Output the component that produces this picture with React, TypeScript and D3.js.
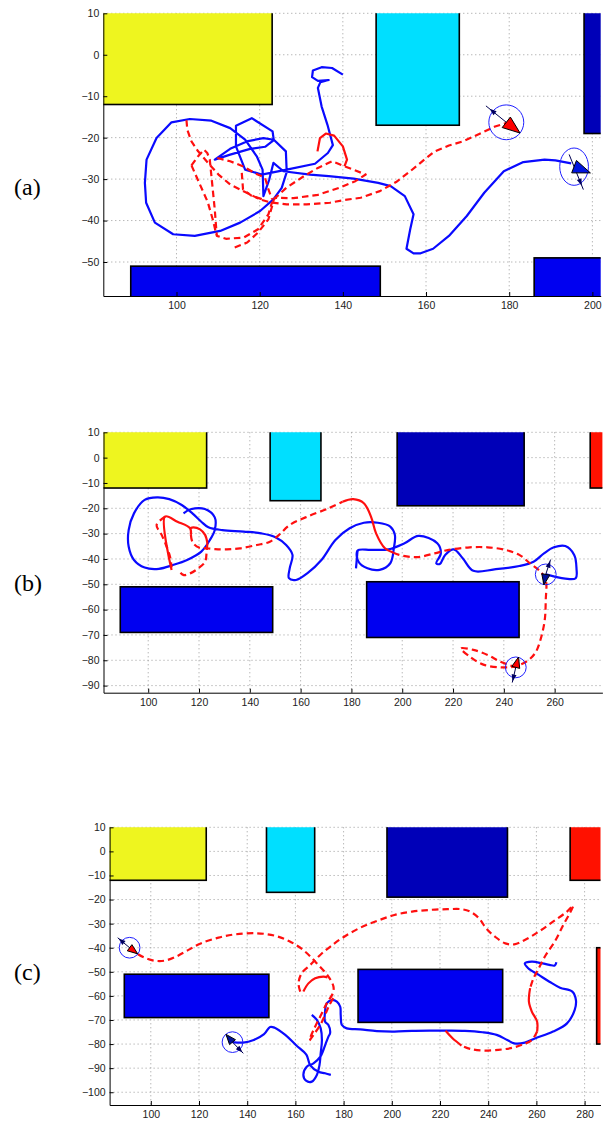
import React, { useEffect, useRef } from "react";
import * as d3 from "d3";

type P = [number, number];

// obstacles in map units: [xMin, xMax, yMin, yMax]
const obstacleKinds = ["yellow", "cyan", "navy", "red", "red", "blue", "blue"];
const obstacleBoxes: [number, number, number, number][] = [
  [70, 123, -12, 20],
  [148, 168, -17, 20],
  [198, 248, -19, 20],
  [274, 300, -12, 20],
  [285, 300, -80, -40],
  [89, 149, -69, -51],
  [186, 246, -71, -49],
];

// ---- panel (a)
const xTicksA = [100, 120, 140, 160, 180, 200];
const yTicksA = [10, 0, -10, -20, -30, -40, -50];
const blueA: P[] = [
  [140.0, -4.8], [137.4, -3.2], [134.9, -3.0], [132.8, -3.8], [132.6, -5.4], [134.0, -6.3], [136.6, -6.1],
  [134.6, -6.6], [134.0, -8.0], [134.9, -12.5], [136.3, -16.9], [137.6, -21.8], [136.4, -23.7], [133.3, -26.3],
  [126.5, -27.7], [120.5, -28.9], [116.5, -27.7], [114.3, -22.1], [114.3, -17.1], [118.1, -15.3], [123.1, -18.5],
  [123.4, -20.6], [121.3, -22.2], [117.7, -22.7], [112.9, -24.1], [109.2, -25.3], [112.9, -22.7], [116.9, -20.9],
  [120.9, -20.1], [123.4, -20.5], [126.3, -23.3], [126.5, -28.3], [125.3, -32.1], [123.3, -34.9], [120.1, -37.7],
  [115.3, -40.5], [110.5, -42.5], [104.4, -43.7], [99.2, -43.3], [94.8, -40.5], [92.7, -35.7], [92.4, -30.9],
  [92.8, -25.3], [95.2, -20.1], [98.8, -16.3], [103.2, -15.5], [108.4, -15.9], [112.9, -17.7], [116.5, -20.5],
  [119.3, -24.5], [120.7, -27.7], [120.9, -34.1], [122.3, -30.1], [123.3, -26.1], [125.7, -28.1], [132.1, -28.9],
  [136.6, -29.3], [142.6, -29.9], [148.5, -30.9], [151.5, -31.7], [154.9, -34.1], [157.0, -38.5], [156.2, -42.1],
  [155.3, -46.8], [157.0, -47.9], [158.7, -47.9], [161.7, -46.8], [165.5, -43.7], [169.8, -38.9], [174.0, -33.3],
  [178.7, -28.1], [183.4, -25.9], [188.5, -25.3], [191.1, -25.5], [194.9, -26.2],
];
const redAMain: P[] = [
  [102.4, -15.8], [102.6, -18.1], [103.6, -20.9], [105.2, -23.3], [107.6, -26.1], [110.1, -28.9], [112.9, -31.3],
  [116.5, -33.1], [120.1, -34.9], [122.5, -35.6], [126.5, -36.1], [131.3, -36.1], [136.9, -35.7], [140.0, -35.1],
  [144.3, -34.5], [148.9, -32.9], [152.8, -30.7], [156.2, -28.1], [159.6, -25.3], [162.1, -23.3], [165.5, -21.9],
  [168.9, -20.9], [173.2, -18.9], [176.6, -17.3], [179.3, -16.5],
];
const redALoop: P[] = [
  [123.4, -34.9], [126.4, -32.1], [130.6, -29.3], [134.0, -27.3], [137.4, -25.7], [140.4, -26.9], [145.5, -28.9],
  [143.0, -30.5], [139.1, -32.1], [134.0, -33.8], [128.1, -34.6], [123.4, -34.5],
];
const redASolid: P[] = [
  [133.9, -23.3], [134.5, -20.1], [135.9, -19.0], [137.9, -19.5], [140.0, -22.1], [141.0, -25.3], [140.4, -26.9],
];
const redALeft: P[] = [
  [103.6, -26.7], [105.2, -24.5], [106.6, -22.9], [107.4, -23.7], [108.0, -25.3], [108.4, -29.3], [108.8, -33.3],
  [109.2, -37.3], [109.5, -41.3], [109.7, -43.7], [111.9, -44.4], [116.2, -44.1], [119.6, -42.1], [122.1, -38.5],
  [123.0, -35.5],
];
const redALeft2: P[] = [[103.6, -26.7], [105.5, -31.0], [107.5, -35.5], [108.8, -40.0], [109.6, -43.5]];
const redALow: P[] = [[114.0, -46.5], [117.0, -45.3], [119.6, -42.9], [122.1, -39.7], [123.0, -36.5], [123.4, -34.9]];
const redAMid: P[] = [
  [109.8, -24.9], [112.9, -25.7], [116.2, -27.0], [118.7, -28.5], [121.3, -29.7], [122.1, -32.5], [123.0, -34.9],
];
const redAMid2: P[] = [[115.7, -28.5], [116.0, -32.5], [118.0, -34.0], [121.0, -35.0]];

// ---- panel (b)
const xTicksB = [100, 120, 140, 160, 180, 200, 220, 240, 260];
const yTicksB = [10, 0, -10, -20, -30, -40, -50, -60, -70, -80, -90];
const blueB: P[] = [
  [113.9, -22.0], [116.7, -20.4], [122.3, -20.3], [126.2, -23.6], [126.2, -28.6], [124.3, -32.5], [120.9, -37.1],
  [115.3, -40.4], [109.7, -42.4], [104.2, -43.9], [98.6, -43.4], [94.4, -40.4], [92.3, -35.1], [92.3, -28.6],
  [94.4, -22.0], [98.6, -16.7], [103.5, -15.7], [108.3, -16.4], [113.2, -18.7], [117.4, -22.0], [120.9, -25.3],
  [123.7, -27.5], [129.2, -28.6], [137.6, -29.2], [144.5, -29.9], [150.1, -31.4], [154.3, -34.5], [156.8, -38.4],
  [155.7, -43.7], [155.4, -47.6], [158.2, -48.3], [162.6, -45.7], [168.2, -40.4], [173.7, -32.5], [179.3, -27.9],
  [184.9, -25.7], [190.4, -25.7], [195.3, -27.2], [197.1, -30.5], [196.7, -35.8], [195.3, -41.7], [191.1, -44.3],
  [186.3, -43.7], [182.8, -41.1], [182.4, -36.7], [187.7, -36.4], [194.6, -36.2], [200.9, -33.8], [206.4, -30.9],
  [213.8, -33.8], [215.2, -37.8], [213.4, -41.7], [214.8, -42.0], [216.9, -38.4], [220.3, -36.2], [223.8, -39.7],
  [228.0, -44.7], [236.3, -44.1], [246.1, -42.8], [251.7, -41.1], [255.8, -37.8], [259.7, -35.4], [264.2, -34.9],
  [267.7, -38.4], [268.6, -43.7], [268.3, -47.6], [264.2, -47.8], [260.0, -47.0], [256.5, -46.1],
];
const blueBTail: P[] = [[182.4, -36.7], [181.8, -43.7]];
const redBSolidL1: P[] = [[109.2, -44.4], [106.6, -23.3], [111.5, -25.3], [116.5, -27.9], [116.8, -30.5]];
const redBSolidL2: P[] = [[116.5, -27.9], [117.8, -27.5], [120.4, -28.3], [122.4, -30.5], [123.3, -33.8]];
const redBDashL: P[] = [[106.6, -23.3], [103.3, -26.6], [105.3, -30.5], [107.0, -34.5], [108.6, -39.1], [109.2, -43.3]];
const redBHeart: P[] = [
  [123.3, -33.8], [123.0, -37.1], [122.4, -41.1], [119.7, -43.7], [116.5, -45.7], [113.8, -46.3], [111.9, -44.4],
];
const redBMain: P[] = [
  [116.8, -30.5], [117.5, -33.5], [120.0, -35.5], [123.0, -35.8], [126.3, -36.1], [130.9, -36.2], [136.1, -35.8],
  [142.7, -34.5], [147.9, -33.2], [151.5, -30.5], [155.7, -26.6], [162.6, -23.3], [171.0, -20.0], [176.5, -17.4],
];
const redBSolidR: P[] = [
  [176.5, -17.4], [180.7, -16.4], [184.9, -18.0], [187.7, -23.3], [189.7, -29.9], [193.2, -35.8], [196.5, -37.5],
];
const redBTail: P[] = [
  [196.5, -37.5], [198.8, -38.4], [205.7, -39.3], [212.7, -37.8], [218.3, -36.4], [226.6, -35.4], [233.6, -35.4],
  [240.5, -36.4], [246.1, -38.4], [250.3, -41.7], [254.4, -45.0], [256.5, -48.3], [256.5, -56.2], [256.1, -64.1],
  [254.4, -72.0], [252.3, -77.2], [248.9, -80.5], [244.0, -82.5], [239.1, -82.8], [232.2, -81.8], [226.6, -78.6],
  [223.1, -75.3], [228.0, -75.9], [233.6, -77.9], [238.5, -80.5], [244.7, -82.8],
];

// ---- panel (c)
const xTicksC = [100, 120, 140, 160, 180, 200, 220, 240, 260, 280];
const yTicksC = [10, 0, -10, -20, -30, -40, -50, -60, -70, -80, -90, -100];
const blueC1: P[] = [
  [174.7, -92.8], [172.3, -92.1], [169.6, -91.5], [166.1, -88.7], [164.6, -84.5], [160.2, -80.4], [155.8, -76.2],
  [151.4, -73.2], [149.5, -72.9], [147.0, -75.9], [142.7, -78.3], [138.3, -79.4], [133.9, -79.2],
];
const blueC2: P[] = [
  [166.8, -67.9], [168.9, -70.0], [170.5, -73.5], [171.0, -78.3], [170.5, -83.8], [170.0, -88.7], [168.9, -92.8],
  [166.8, -95.6], [164.4, -95.2], [163.3, -92.8], [164.7, -89.4], [167.5, -88.0], [170.5, -85.0], [172.5, -80.0],
  [173.7, -76.9], [174.4, -75.5], [173.7, -72.1], [172.3, -70.7], [172.3, -66.6], [173.0, -63.1], [175.1, -61.7],
  [177.2, -62.4], [178.6, -64.5], [178.8, -67.9], [179.3, -72.1], [181.3, -73.5], [186.9, -73.9], [193.8, -74.6],
  [201.1, -74.8], [208.4, -74.5], [215.7, -74.4], [223.0, -74.4], [230.3, -74.5], [237.6, -75.1], [243.5, -76.2],
  [247.9, -78.3], [250.8, -79.7], [255.2, -79.4], [259.6, -77.6], [266.9, -74.8], [272.7, -71.4], [275.9, -65.8],
  [276.4, -61.7], [274.9, -58.2], [269.8, -56.6], [265.4, -54.1], [261.0, -51.3], [256.6, -48.5], [255.2, -46.5],
  [258.1, -45.8], [262.5, -46.5], [265.4, -47.1], [267.6, -47.4], [268.3, -46.0],
];
const redCMain: P[] = [
  [91.2, -40.0], [94.7, -42.7], [98.8, -44.7], [102.5, -45.5], [106.1, -45.3], [110.5, -43.7], [115.6, -40.9],
  [120.7, -38.2], [128.1, -35.8], [135.4, -34.4], [144.1, -34.0], [151.4, -35.0], [157.3, -37.2], [163.3, -41.0],
  [168.9, -46.5], [173.7, -52.0], [175.8, -56.2], [175.5, -59.0], [173.0, -63.1], [170.3, -68.6], [167.5, -74.2],
  [165.8, -78.5], [167.5, -76.2], [170.3, -72.1], [172.3, -67.9], [174.1, -63.8], [176.0, -60.5],
];
const redCHook: P[] = [[173.3, -52.3], [171.6, -52.0], [168.2, -52.7], [165.4, -54.8], [163.3, -58.2]];
const redCBig: P[] = [
  [162.0, -58.2], [161.3, -54.8], [162.6, -50.6], [166.1, -47.2], [170.3, -43.0], [174.4, -39.6], [179.2, -36.1],
  [186.5, -31.9], [193.8, -28.9], [201.1, -26.4], [208.4, -25.0], [215.7, -24.3], [223.0, -24.0], [228.9, -24.0],
  [232.5, -25.0], [236.2, -27.8], [239.1, -31.9], [242.8, -35.4], [247.1, -38.2], [250.8, -38.6], [255.2, -36.8],
  [261.0, -33.3], [266.9, -29.2], [272.7, -25.0], [275.3, -22.5], [274.2, -25.0], [271.2, -30.5], [267.6, -37.5],
  [263.9, -43.0], [261.0, -48.5], [258.8, -52.7], [257.4, -56.8],
];
const redCSolid2: P[] = [[257.4, -56.8], [256.9, -62.4], [258.1, -66.5], [260.3, -70.7], [260.3, -74.8]];
const redCBottom: P[] = [
  [260.3, -74.8], [258.1, -78.3], [253.7, -80.4], [249.3, -81.7], [244.2, -82.4], [237.6, -82.7], [232.5, -82.0],
  [228.9, -80.6],
];
const redCSolid3: P[] = [[228.9, -80.6], [225.2, -77.6], [222.3, -74.5]];

// robot poses: [x, y, heading deg, sensor direction deg, radius x, radius y]
const posesA: number[][] = [
  [179.3, -16.3, -38, 141, 4.2, 4.2],
  [195.6, -27.0, -21, -68, 3.45, 4.5],
];
const posesB: number[][] = [
  [256.5, -46.1, -100, 72, 4.1, 4.1],
  [244.7, -82.8, 75, -103, 4.1, 4.1],
];
const posesC: number[][] = [
  [91.2, -40.0, -37, 140, 4.3, 4.3],
  [133.9, -79.2, 130, -46, 4.3, 4.3],
];

const fills: Record<string, string> = {
  yellow: "#eef51f",
  cyan: "#00dfff",
  navy: "#0000b8",
  red: "#ff1100",
  blue: "#0000f0",
};
const BLUE = "#0a0aff";
const RED = "#ff0f0f";

type Track = { pts: P[]; color: string; dashed: boolean };
type Panel = {
  label: string;
  labelY: number;
  box: { left: number; right: number; top: number; bottom: number };
  xDomain: [number, number];
  yDomain: [number, number];
  xTicks: number[];
  yTicks: number[];
  smooth: boolean;
  tracks: Track[];
  poses: number[][];
  poseColors: string[];
};

const panels: Panel[] = [
  {
    label: "(a)",
    labelY: 195,
    box: { left: 103.3, right: 600.7, top: 13.3, bottom: 296 },
    xDomain: [82.4, 202],
    yDomain: [-58.2, 10],
    xTicks: xTicksA,
    yTicks: yTicksA,
    smooth: false,
    tracks: [
      { pts: blueA, color: BLUE, dashed: false },
      { pts: redAMain, color: RED, dashed: true },
      { pts: redALoop, color: RED, dashed: true },
      { pts: redASolid, color: RED, dashed: false },
      { pts: redALeft, color: RED, dashed: true },
      { pts: redALeft2, color: RED, dashed: true },
      { pts: redALow, color: RED, dashed: true },
      { pts: redAMid, color: RED, dashed: true },
      { pts: redAMid2, color: RED, dashed: true },
    ],
    poses: posesA,
    poseColors: ["#ff0000", "#0014e0"],
  },
  {
    label: "(b)",
    labelY: 591,
    box: { left: 103.5, right: 602.4, top: 432.3, bottom: 692.7 },
    xDomain: [82.4, 278.8],
    yDomain: [-92.8, 10],
    xTicks: xTicksB,
    yTicks: yTicksB,
    smooth: true,
    tracks: [
      { pts: blueB, color: BLUE, dashed: false },
      { pts: blueBTail, color: BLUE, dashed: false },
      { pts: redBSolidL1, color: RED, dashed: false },
      { pts: redBSolidL2, color: RED, dashed: false },
      { pts: redBDashL, color: RED, dashed: true },
      { pts: redBHeart, color: RED, dashed: true },
      { pts: redBMain, color: RED, dashed: true },
      { pts: redBSolidR, color: RED, dashed: false },
      { pts: redBTail, color: RED, dashed: true },
    ],
    poses: posesB,
    poseColors: ["#00109a", "#ff0000"],
  },
  {
    label: "(c)",
    labelY: 980,
    box: { left: 109.6, right: 600.5, top: 827.3, bottom: 1105 },
    xDomain: [82.9, 286.6],
    yDomain: [-105.3, 10],
    xTicks: xTicksC,
    yTicks: yTicksC,
    smooth: true,
    tracks: [
      { pts: blueC1, color: BLUE, dashed: false },
      { pts: blueC2, color: BLUE, dashed: false },
      { pts: redCMain, color: RED, dashed: true },
      { pts: redCHook, color: RED, dashed: false },
      { pts: redCBig, color: RED, dashed: true },
      { pts: redCSolid2, color: RED, dashed: false },
      { pts: redCBottom, color: RED, dashed: true },
      { pts: redCSolid3, color: RED, dashed: false },
    ],
    poses: posesC,
    poseColors: ["#ff0000", "#00109a"],
  },
];

const AXIS_FONT = "'Liberation Sans', Arial, Helvetica, sans-serif";

export default function App() {
  const ref = useRef<SVGSVGElement>(null);

  useEffect(() => {
    const svg = d3.select(ref.current);
    svg.selectAll("*").remove();
    svg.append("rect").attr("width", 613).attr("height", 1124).attr("fill", "#fff");

    panels.forEach((p, i) => {
      const { box } = p;
      const x = d3.scaleLinear().domain(p.xDomain).range([box.left, box.right]);
      const y = d3.scaleLinear().domain(p.yDomain).range([box.bottom, box.top]);
      const clipId = `plotclip${i}`;
      svg
        .append("clipPath")
        .attr("id", clipId)
        .append("rect")
        .attr("x", box.left)
        .attr("y", box.top)
        .attr("width", box.right - box.left)
        .attr("height", box.bottom - box.top);

      const g = svg.append("g");

      // dotted grid
      g.selectAll("line.gx")
        .data(p.xTicks)
        .join("line")
        .attr("x1", (d) => x(d))
        .attr("x2", (d) => x(d))
        .attr("y1", box.top)
        .attr("y2", box.bottom)
        .attr("stroke", "#9a9a9a")
        .attr("stroke-dasharray", "1,3");
      g.selectAll("line.gy")
        .data(p.yTicks)
        .join("line")
        .attr("x1", box.left)
        .attr("x2", box.right)
        .attr("y1", (d) => y(d))
        .attr("y2", (d) => y(d))
        .attr("stroke", "#9a9a9a")
        .attr("stroke-dasharray", "1,3");

      const plot = g.append("g").attr("clip-path", `url(#${clipId})`);

      plot
        .selectAll("rect.obs")
        .data(obstacleBoxes)
        .join("rect")
        .attr("x", (d) => x(d[0]))
        .attr("y", (d) => y(d[3]))
        .attr("width", (d) => x(d[1]) - x(d[0]))
        .attr("height", (d) => y(d[2]) - y(d[3]))
        .attr("fill", (d, j) => fills[obstacleKinds[j]])
        .attr("stroke", "#000")
        .attr("stroke-width", 1.6);

      const line = d3
        .line<P>()
        .x((d) => x(d[0]))
        .y((d) => y(d[1]))
        .curve(p.smooth ? d3.curveCatmullRom.alpha(0.5) : d3.curveLinear);

      p.tracks.forEach((t) => {
        plot
          .append("path")
          .attr("d", line(t.pts))
          .attr("fill", "none")
          .attr("stroke", t.color)
          .attr("stroke-width", 2.2)
          .attr("stroke-linejoin", "round")
          .attr("stroke-dasharray", t.dashed ? "6.5,4" : null);
      });

      // robot pose markers
      p.poses.forEach((m, k) => {
        const [mx, my, hd, sd, rx, ry] = m;
        const cx = x(mx);
        const cy = y(my);
        const kx = x(1) - x(0);
        const ky = y(0) - y(1);
        const R = (rx + ry) / 2;
        plot
          .append("ellipse")
          .attr("cx", cx)
          .attr("cy", cy)
          .attr("rx", rx * kx)
          .attr("ry", ry * ky)
          .attr("fill", "none")
          .attr("stroke", "#2020ff")
          .attr("stroke-width", 1);

        const sa = (sd * Math.PI) / 180;
        const vx = Math.cos(sa);
        const vy = Math.sin(sa);
        const p0: P = [x(mx - 0.8 * R * vx), y(my - 0.8 * R * vy)];
        const p1: P = [x(mx + 1.5 * R * vx), y(my + 1.5 * R * vy)];
        plot
          .append("line")
          .attr("x1", p0[0])
          .attr("y1", p0[1])
          .attr("x2", p1[0])
          .attr("y2", p1[1])
          .attr("stroke", "#000050")
          .attr("stroke-width", 1);
        const ax = x(mx + 1.0 * R * vx);
        const ay = y(my + 1.0 * R * vy);
        const dx = vx;
        const dy = -vy;
        plot
          .append("path")
          .attr(
            "d",
            `M${ax + dx * 4},${ay + dy * 4}L${ax - dx * 3 - dy * 2.5},${ay - dy * 3 + dx * 2.5}L${ax - dx * 3 + dy * 2.5},${ay - dy * 3 - dx * 2.5}Z`
          )
          .attr("fill", "#000060");

        const ha = (hd * Math.PI) / 180;
        const ux = Math.cos(ha);
        const uy = Math.sin(ha);
        const L = 4.2;
        const hw = 1.6;
        const tri: P[] = [
          [mx + L * ux, my + L * uy],
          [mx - hw * uy, my + hw * ux],
          [mx + hw * uy, my - hw * ux],
        ];
        plot
          .append("path")
          .attr("d", "M" + tri.map((q) => `${x(q[0])},${y(q[1])}`).join("L") + "Z")
          .attr("fill", p.poseColors[k])
          .attr("stroke", "#000")
          .attr("stroke-width", 1)
          .attr("stroke-linejoin", "round");
      });

      // axes
      const ax = g
        .append("g")
        .attr("transform", `translate(0,${box.bottom})`)
        .call(d3.axisBottom(x).tickValues(p.xTicks).tickSize(-4).tickSizeOuter(0).tickPadding(6));
      const ay = g
        .append("g")
        .attr("transform", `translate(${box.left},0)`)
        .call(d3.axisLeft(y).tickValues(p.yTicks).tickSize(-4).tickSizeOuter(0).tickPadding(4));
      [ax, ay].forEach((a) => {
        a.attr("font-family", AXIS_FONT).attr("font-size", 10.5);
        a.select(".domain").attr("stroke", "#000").attr("stroke-width", 1);
        a.selectAll(".tick line").attr("stroke", "#000");
        a.selectAll(".tick text").attr("fill", "#222");
      });

      svg
        .append("text")
        .attr("x", 14)
        .attr("y", p.labelY)
        .attr("font-family", "'Liberation Serif', 'Times New Roman', serif")
        .attr("font-size", 24)
        .attr("fill", "#000")
        .text(p.label);
    });
  }, []);

  return (
    <svg
      ref={ref}
      width={613}
      height={1124}
      style={{ position: "absolute", left: 0, top: 0, display: "block" }}
    />
  );
}
